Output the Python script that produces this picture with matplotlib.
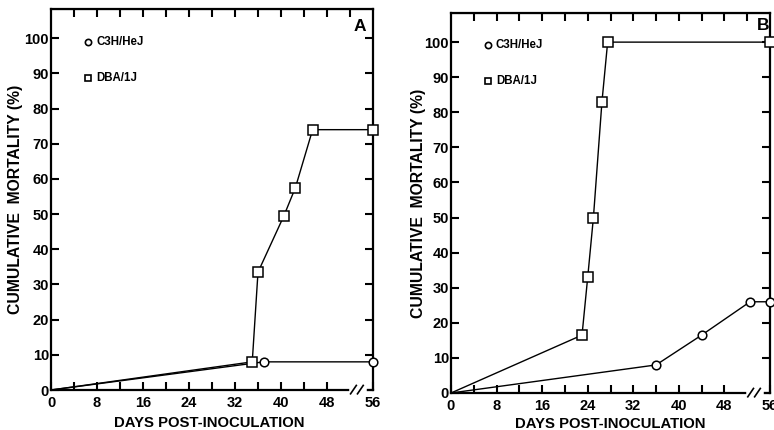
import numpy as np
import matplotlib
matplotlib.use('Agg')
import matplotlib.pyplot as plt
import matplotlib.transforms as mtrans

plt.rcParams['font.family'] = ['Liberation Sans', 'DejaVu Sans']
plt.rcParams['font.weight'] = 'bold'

# --- data ---
a_c3h_days = [0, 37, 56]
a_c3h_mort = [0, 8, 8]
a_dba_days = [0, 35, 36, 40.5, 42.5, 45.5, 56]
a_dba_mort = [0, 8, 33.5, 49.5, 57.5, 74, 74]

b_c3h_days = [0, 36, 44, 52.5, 56]
b_c3h_mort = [0, 8, 16.5, 26, 26]
b_dba_days = [0, 23, 24, 25, 26.5, 27.5, 56]
b_dba_mort = [0, 16.5, 33, 50, 83, 100, 100]

x_major = [0, 8, 16, 24, 32, 40, 48, 56]
y_major = [0, 10, 20, 30, 40, 50, 60, 70, 80, 90, 100]
strains = ['C3H/HeJ', 'DBA/1J']

fig = plt.figure(figsize=(7.74, 4.30), dpi=100, facecolor='white')
W, H = 774, 430


def box(l, r, t, b):
    return [l / W, 1 - b / H, (r - l) / W, (b - t) / H]


def panel(rect, c3h_x, c3h_y, dba_x, dba_y, letter, letter_xy, leg_xy):
    ax = fig.add_axes(rect)
    ax.set_xlim(0, 56)
    ax.set_ylim(0, 108.3)
    for sp in ax.spines.values():
        sp.set_linewidth(1.6)

    kw = dict(color='black', lw=1.0, mfc='white', mec='black', mew=1.1,
              markevery=slice(1, None), clip_on=False, zorder=4)
    ax.plot(c3h_x, c3h_y, marker='o', ms=6.2, **kw)
    ax.plot(dba_x, dba_y, marker='s', ms=7, **kw)

    # ticks: all inward
    bot = list(range(0, 49, 4)) + [56]
    ax.set_xticks(bot)
    ax.set_xticklabels([str(v) if v in x_major else '' for v in bot])
    ax.set_yticks(y_major)
    ax.tick_params(axis='both', direction='in', length=6, width=1.5,
                   labelsize=10.5, right=True)
    ax.tick_params(axis='x', pad=4)
    ax.tick_params(axis='y', pad=1.5)
    top = ax.secondary_xaxis('top')
    top.set_xticks(list(range(4, 53, 4)))
    top.tick_params(direction='in', length=6, width=1.5, labeltop=False)

    ax.set_xlabel('DAYS POST-INOCULATION', fontsize=10.7, fontweight='bold')
    ax.set_ylabel('CUMULATIVE  MORTALITY (%)', fontsize=11.3,
                  fontweight='bold')

    # axis break on the x axis
    tr = mtrans.blended_transform_factory(ax.transData, ax.transAxes)
    ax.plot([52.4, 54.4], [0, 0], color='white', lw=4, transform=tr,
            clip_on=False, zorder=5)
    for x0 in (52.6, 53.8):
        ax.plot([x0 - 0.5, x0 + 0.5], [-0.01, 0.012], color='black', lw=1.2,
                transform=tr, clip_on=False, zorder=6)

    ax.text(letter_xy[0], letter_xy[1], letter, transform=ax.transAxes,
            fontsize=12.5, fontweight='bold', ha='center', va='center')

    lx, ly = leg_xy
    for i, (name, mk) in enumerate(zip(strains, ['o', 's'])):
        yy = ly - i * 0.094
        ax.plot([lx], [yy], marker=mk, ms=4.5, mfc='white', mec='black',
                mew=1.2, transform=ax.transAxes, clip_on=False)
        ax.text(lx + 0.025, yy, name, transform=ax.transAxes, fontsize=8.3,
                fontweight='bold', ha='left', va='center')
    return ax


axA = panel(box(51, 373, 9, 390), a_c3h_days, a_c3h_mort,
            a_dba_days, a_dba_mort, 'A', (0.96, 0.953), (0.115, 0.913))
axA.yaxis.set_label_coords(-0.087, 0.5)
axA.xaxis.set_label_coords(0.49, -0.067)

axB = panel(box(451, 770, 13, 393), b_c3h_days, b_c3h_mort,
            b_dba_days, b_dba_mort, 'B', (0.978, 0.968), (0.116, 0.916))
axB.yaxis.set_label_coords(-0.078, 0.5)
axB.xaxis.set_label_coords(0.5, -0.064)

fig.savefig('out.png', dpi=100, facecolor='white')
